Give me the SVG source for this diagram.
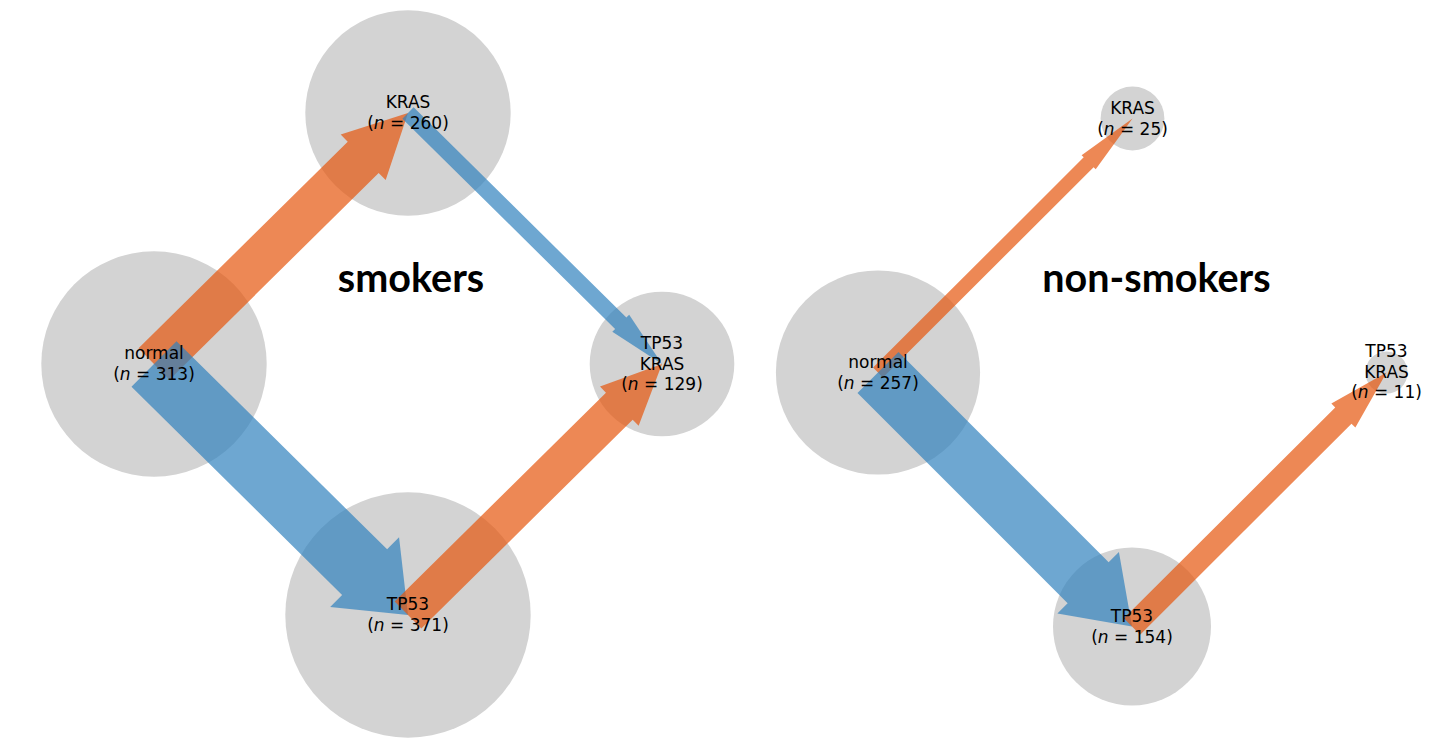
<svg xmlns="http://www.w3.org/2000/svg" width="1449" height="741" viewBox="0 0 1449 741">
<style>
.node{fill:#d3d3d3}
.or{fill:#e6550d;fill-opacity:0.7}
.bl{fill:#3182bd;fill-opacity:0.7}
.lbl{font-family:"DejaVu Sans",sans-serif;font-size:17px;fill:#000;text-anchor:middle}
.ttl{font-family:Lato,"DejaVu Sans",sans-serif;font-weight:bold;font-size:39.5px;fill:#000;text-anchor:middle}
</style>
<rect width="1449" height="741" fill="#fff"/>
<g id="s-normal"><circle class="node" cx="154" cy="364" r="112.7"/></g>
<g id="s-kras"><circle class="node" cx="408" cy="113" r="102.7"/></g>
<g id="s-tp53"><circle class="node" cx="408" cy="615" r="122.7"/></g>
<g id="s-tp53kras"><circle class="node" cx="662" cy="364" r="72.3"/></g>
<g id="n-normal"><circle class="node" cx="878" cy="372.5" r="102.1"/></g>
<g id="n-kras"><circle class="node" cx="1132.5" cy="118.5" r="31.9"/></g>
<g id="n-tp53"><circle class="node" cx="1132" cy="626.5" r="79"/></g>
<g id="n-tp53kras"><circle class="node" cx="1386.5" cy="372.5" r="21.1"/></g>
<g id="connectors">
<polygon class="or" points="0,-22 294.1,-22 294.1,-32 357.1,0 294.1,32 294.1,22 0,22" transform="translate(154,364) rotate(-44.66)"/>
<polygon class="bl" points="0,-32 296.1,-32 296.1,-49 357.1,0 296.1,49 296.1,32 0,32" transform="translate(154,364) rotate(44.66)"/>
<polygon class="bl" points="0,-8 299.1,-8 299.1,-12 357.1,0 299.1,12 299.1,8 0,8" transform="translate(408,113) rotate(44.66)"/>
<polygon class="or" points="0,-19 297.1,-19 297.1,-27.5 357.1,0 297.1,27.5 297.1,19 0,19" transform="translate(408,615) rotate(-44.66)"/>
<polygon class="or" points="0,-7 297.6,-7 297.6,-10 359.6,0 297.6,10 297.6,7 0,7" transform="translate(878,372.5) rotate(-44.94)"/>
<polygon class="bl" points="0,-29 297.2,-29 297.2,-43.5 359.2,0 297.2,43.5 297.2,29 0,29" transform="translate(878,372.5) rotate(45)"/>
<polygon class="or" points="0,-11.5 298.6,-11.5 298.6,-17 359.6,0 298.6,17 298.6,11.5 0,11.5" transform="translate(1132,626.5) rotate(-44.94)"/>
</g>
<g id="s-normal-label"><text class="lbl" x="154" y="359">normal</text><text class="lbl" x="154" y="380">(<tspan font-style="italic">n</tspan> = 313)</text></g>
<g id="s-kras-label"><text class="lbl" x="408" y="108">KRAS</text><text class="lbl" x="408" y="129">(<tspan font-style="italic">n</tspan> = 260)</text></g>
<g id="s-tp53-label"><text class="lbl" x="408" y="610">TP53</text><text class="lbl" x="408" y="631">(<tspan font-style="italic">n</tspan> = 371)</text></g>
<g id="s-tp53kras-label"><text class="lbl" x="662" y="349">TP53</text><text class="lbl" x="662" y="369.5">KRAS</text><text class="lbl" x="662" y="390">(<tspan font-style="italic">n</tspan> = 129)</text></g>
<g id="n-normal-label"><text class="lbl" x="878" y="368">normal</text><text class="lbl" x="878" y="389">(<tspan font-style="italic">n</tspan> = 257)</text></g>
<g id="n-kras-label"><text class="lbl" x="1132.5" y="113.5">KRAS</text><text class="lbl" x="1132.5" y="134.5">(<tspan font-style="italic">n</tspan> = 25)</text></g>
<g id="n-tp53-label"><text class="lbl" x="1132" y="621.5">TP53</text><text class="lbl" x="1132" y="642.5">(<tspan font-style="italic">n</tspan> = 154)</text></g>
<g id="n-tp53kras-label"><text class="lbl" x="1386.5" y="357">TP53</text><text class="lbl" x="1386.5" y="377.5">KRAS</text><text class="lbl" x="1386.5" y="398">(<tspan font-style="italic">n</tspan> = 11)</text></g>
<text class="ttl" x="411" y="292">smokers</text>
<text class="ttl" x="1156.5" y="292">non-smokers</text>
</svg>
